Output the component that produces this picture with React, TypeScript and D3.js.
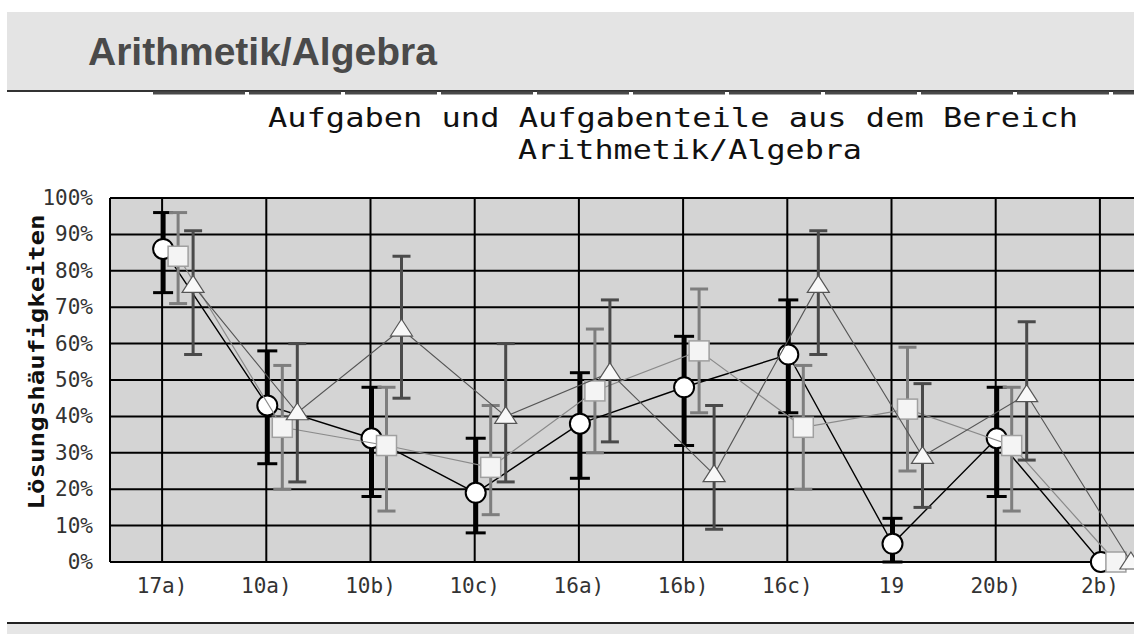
import React from 'react';
import * as d3 from 'd3';

const categories = ['17a)', '10a)', '10b)', '10c)', '16a)', '16b)', '16c)', '19', '20b)', '2b)'];
const yTicks = [0, 10, 20, 30, 40, 50, 60, 70, 80, 90, 100];

const circleVals = [86, 43, 34, 19, 38, 48, 57, 5, 34, 0];
const circleLo = [74, 27, 18, 8, 23, 32, 41, 0, 18, 0];
const circleHi = [96, 58, 48, 34, 52, 62, 72, 12, 48, 0];

const squareVals = [84, 37, 32, 26, 47, 58, 37, 42, 32, 0];
const squareLo = [71, 20, 14, 13, 30, 41, 20, 25, 14, 0];
const squareHi = [96, 54, 48, 43, 64, 75, 54, 59, 48, 0];

const triVals = [76, 41, 64, 40, 52, 24, 76, 29, 46, 0];
const triLo = [57, 22, 45, 22, 33, 9, 57, 15, 28, 0];
const triHi = [91, 60, 84, 60, 72, 43, 91, 49, 66, 0];

const headerTitle = 'Arithmetik/Algebra';
const chartTitle1 = 'Aufgaben und Aufgabenteile aus dem Bereich';
const chartTitle2 = 'Arithmetik/Algebra';
const yTitle = 'Lösungshäufigkeiten';

type Series = {
  vals: number[]; lo: number[]; hi: number[]; dx: number;
  barColor: string; barW: number; capW: number;
  lineColor: string; lineW: number; marker: 'circle' | 'square' | 'triangle';
};

export default function App() {
  const W = 1134, H = 634;
  const x = d3.scalePoint<string>().domain(categories).range([110, 1152]).padding(0.5);
  const y = d3.scaleLinear().domain([0, 100]).range([562, 198]);

  const series: Series[] = [
    { vals: circleVals, lo: circleLo, hi: circleHi, dx: 1, barColor: '#000', barW: 5, capW: 20, lineColor: '#000', lineW: 1.4, marker: 'circle' },
    { vals: squareVals, lo: squareLo, hi: squareHi, dx: 16, barColor: '#7e7e7e', barW: 3, capW: 18, lineColor: '#8a8a8a', lineW: 1.2, marker: 'square' },
    { vals: triVals, lo: triLo, hi: triHi, dx: 31, barColor: '#4a4a4a', barW: 3, capW: 18, lineColor: '#555', lineW: 1.1, marker: 'triangle' },
  ];

  const px = (i: number, dx: number) => (x(categories[i]) as number) + dx;
  const mono = '"DejaVu Sans Mono", "Liberation Mono", monospace';

  return (
    <svg width={W} height={H} style={{ position: 'absolute', left: 0, top: 0, background: '#fff' }}>
      {/* header band */}
      <rect x={7} y={12} width={W - 7} height={79} fill="#e4e4e4" />
      <text x={88} y={65} fontFamily='"Liberation Sans", Arial, sans-serif' fontWeight="bold" fontSize={39} fill="#4a4a4a">{headerTitle}</text>
      <line x1={7} x2={W} y1={91} y2={91} stroke="#333" strokeWidth={2} />
      <line x1={153} x2={W} y1={93} y2={93} stroke="#4a4a4a" strokeWidth={3} strokeDasharray="92,4" />

      {/* chart titles */}
      <text x={268} y={127} fontFamily={mono} fontSize={27} fill="#111" textLength={810} lengthAdjust="spacingAndGlyphs">{chartTitle1}</text>
      <text x={518} y={159} fontFamily={mono} fontSize={27} fill="#111" textLength={344} lengthAdjust="spacingAndGlyphs">{chartTitle2}</text>

      {/* plot area */}
      <rect x={110} y={y(100)} width={1152 - 110} height={y(0) - y(100)} fill="#d4d4d4" />
      {yTicks.map(t => (
        <line key={'h' + t} x1={110} x2={1152} y1={y(t)} y2={y(t)} stroke="#000" strokeWidth={2} />
      ))}
      <line x1={110} x2={110} y1={y(100)} y2={y(0)} stroke="#000" strokeWidth={2} />
      {categories.map(c => (
        <line key={'v' + c} x1={x(c)} x2={x(c)} y1={y(100)} y2={y(0)} stroke="#000" strokeWidth={2} />
      ))}

      {/* y tick labels */}
      {yTicks.map(t => (
        <text key={'yl' + t} x={93} y={y(t) + 7} textAnchor="end" fontFamily={mono} fontSize={21} fill="#333">{t + '%'}</text>
      ))}
      {/* x labels */}
      {categories.map(c => (
        <text key={'xl' + c} x={(x(c) as number)} y={593} textAnchor="middle" fontFamily={mono} fontSize={21} fill="#333">{c}</text>
      ))}
      {/* y title */}
      <text transform="translate(44,362) rotate(-90)" textAnchor="middle" fontFamily={mono} fontWeight="bold" fontSize={21} fill="#111" textLength={295} lengthAdjust="spacingAndGlyphs">{yTitle}</text>

      {/* series */}
      {series.map((s, si) => {
        const line = d3.line<number>().x((_, i) => px(i, s.dx)).y(d => y(d));
        return (
          <g key={'s' + si}>
            {s.vals.map((_, i) => s.hi[i] > s.lo[i] ? (
              <g key={'e' + i}>
                <line x1={px(i, s.dx)} x2={px(i, s.dx)} y1={y(s.hi[i])} y2={y(s.lo[i])} stroke={s.barColor} strokeWidth={s.barW} />
                <line x1={px(i, s.dx) - s.capW / 2} x2={px(i, s.dx) + s.capW / 2} y1={y(s.hi[i])} y2={y(s.hi[i])} stroke={s.barColor} strokeWidth={3} />
                <line x1={px(i, s.dx) - s.capW / 2} x2={px(i, s.dx) + s.capW / 2} y1={y(s.lo[i])} y2={y(s.lo[i])} stroke={s.barColor} strokeWidth={3} />
              </g>
            ) : null)}
            <path d={line(s.vals) || ''} fill="none" stroke={s.lineColor} strokeWidth={s.lineW} />
            {s.vals.map((v, i) => {
              const cx = px(i, s.dx), cy = y(v);
              if (s.marker === 'circle') return <circle key={'m' + i} cx={cx} cy={cy} r={10} fill="#fff" stroke="#000" strokeWidth={2} />;
              if (s.marker === 'square') return <rect key={'m' + i} x={cx - 10} y={cy - 10} width={20} height={20} fill="#f4f4f4" stroke="#a0a0a0" strokeWidth={1.5} />;
              return <path key={'m' + i} d={`M${cx},${cy - 10}L${cx + 11},${cy + 7}L${cx - 11},${cy + 7}Z`} fill="#f8f8f8" stroke="#555" strokeWidth={1.2} />;
            })}
          </g>
        );
      })}

      {/* bottom band */}
      <rect x={7} y={624} width={W - 7} height={H - 624} fill="#e6e6e6" />
      <line x1={7} x2={W} y1={623} y2={623} stroke="#222" strokeWidth={2} />
    </svg>
  );
}
